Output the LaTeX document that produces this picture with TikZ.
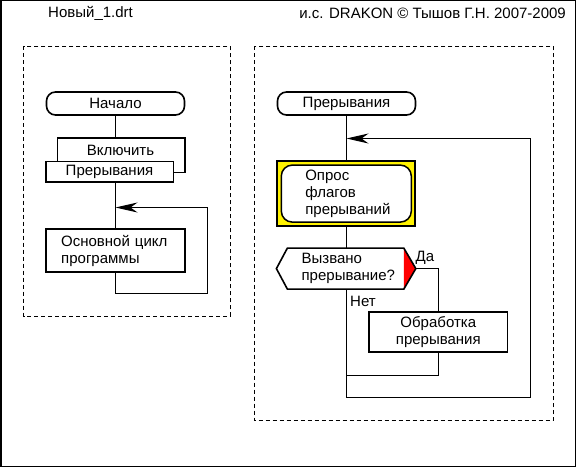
\documentclass[tikz,border=0pt]{standalone}
\usepackage{fontspec}
\setmainfont{Liberation Sans}
\usetikzlibrary{arrows.meta,calc}
\newcommand\dfont{\fontsize{15bp}{17bp}\selectfont}
\tikzset{
  conn/.style={line width=1bp, black},
  frame/.style={line width=1bp, dash pattern=on 4bp off 3bp},
  txt/.style={font=\dfont, inner sep=0pt},
  term/.style={draw, line width=1.6bp, rounded corners=9bp, fill=white,
    minimum width=138bp, minimum height=23bp, inner sep=0pt, font=\dfont},
  actbox/.style={draw, line width=1.6bp, fill=white, inner sep=0pt, font=\dfont},
  arr/.style={-{Stealth[length=22bp,width=10bp,inset=7bp]}}
}
\begin{document}
\begin{tikzpicture}[x=1bp,y=-1bp]
\useasboundingbox (0,0) rectangle (576,467);
\fill[white] (0,0) rectangle (576,467);
\draw[line width=1.5bp] (0.75,0.75) rectangle (575.25,466.25);

% header
\node[txt, anchor=west] (title) at (48,13) {Новый\_1.drt};
\node[txt, anchor=east] (copy) at (566,13) {и.с. DRAKON © Тышов Г.Н. 2007-2009};

% frames
\draw[frame] (23.5,46.5) rectangle (230.5,316);
\draw[frame] (254.5,46.5) rectangle (553.5,420.5);

% ---------- left column ----------
\node[term] (start1) at (115.5,103.5) {Начало};
\node[actbox, minimum width=127.5bp, minimum height=34.5bp] (shelfA) at (121.25,155.25) {};
\node[txt] (vkl) at (120.5,150) {Включить};
\node[actbox, minimum width=127.6bp, minimum height=20.6bp] (shelfB) at (109.5,172) {Прерывания};
\node[actbox, minimum width=138.6bp, minimum height=42.4bp, inner xsep=15bp,
      text width=108.6bp, align=left] (main1) at (115.5,250.5) {Основной цикл\\программы};

\coordinate (a1) at (115.5,293);
\coordinate (a2) at (207,293);
\coordinate (a3) at (207,207.5);
\coordinate (a4) at (115.5,207.5);

\draw[conn] (start1.south) -- (start1.south |- shelfA.north);
\draw[conn] (start1.south |- shelfB.south) -- (main1.north);
\draw[conn, arr] (main1.south) -- (a1) -- (a2) -- (a3) -- (a4);

% ---------- right column ----------
\node[term] (start2) at (346.5,103.5) {Прерывания};
\node[draw, line width=2bp, fill=yellow, minimum width=138bp, minimum height=65bp] (pollbox) at (346,193.4) {};
\node[draw, line width=1.5bp, fill=white, rounded corners=11bp, minimum width=130bp,
      minimum height=57bp, inner xsep=24bp, text width=82bp, align=left, font=\dfont] (poll) at (346.3,193.6)
      {Опрос\\флагов\\прерываний};

\node[minimum width=139bp, minimum height=40.7bp, inner xsep=25bp, text width=89bp,
      align=left, font=\dfont] (q) at (346.1,268.6) {Вызвано\\прерывание?};
\fill[red] ($(q.north east)+(-12,0)$) -- (q.east) -- ($(q.south east)+(-12,0)$) -- cycle;
\draw[line width=1.6bp, line join=miter] (q.west) -- ($(q.north west)+(11,0)$) -- ($(q.north east)+(-12,0)$)
   -- (q.east) -- ($(q.south east)+(-12,0)$) -- ($(q.south west)+(11,0)$) -- cycle;

\node[txt, anchor=west] (da) at (415.5,258) {Да};
\node[txt, anchor=west] (net) at (350,301.5) {Нет};

\node[actbox, minimum width=138.7bp, minimum height=40bp, align=center] (proc) at (438.3,331.7)
      {Обработка\\прерывания};

\coordinate (n1) at (346.5,397.5);
\coordinate (n2) at (530,397.5);
\coordinate (n3) at (530,138.5);
\coordinate (n4) at (346.5,138.5);
\coordinate (y1) at (438.3,268.6);
\coordinate (y2) at (438.3,375);
\coordinate (y3) at (346.5,375);

\draw[conn] (start2.south) -- (start2.south |- pollbox.north);
\draw[conn] (start2.south |- pollbox.south) -- (start2.south |- q.north);
\draw[conn, arr] (start2.south |- q.south) -- (n1) -- (n2) -- (n3) -- (n4);
\draw[conn] (q.east) -- (y1) -- (proc.north);
\draw[conn] (proc.south) -- (y2) -- (y3);
\end{tikzpicture}
\end{document}
